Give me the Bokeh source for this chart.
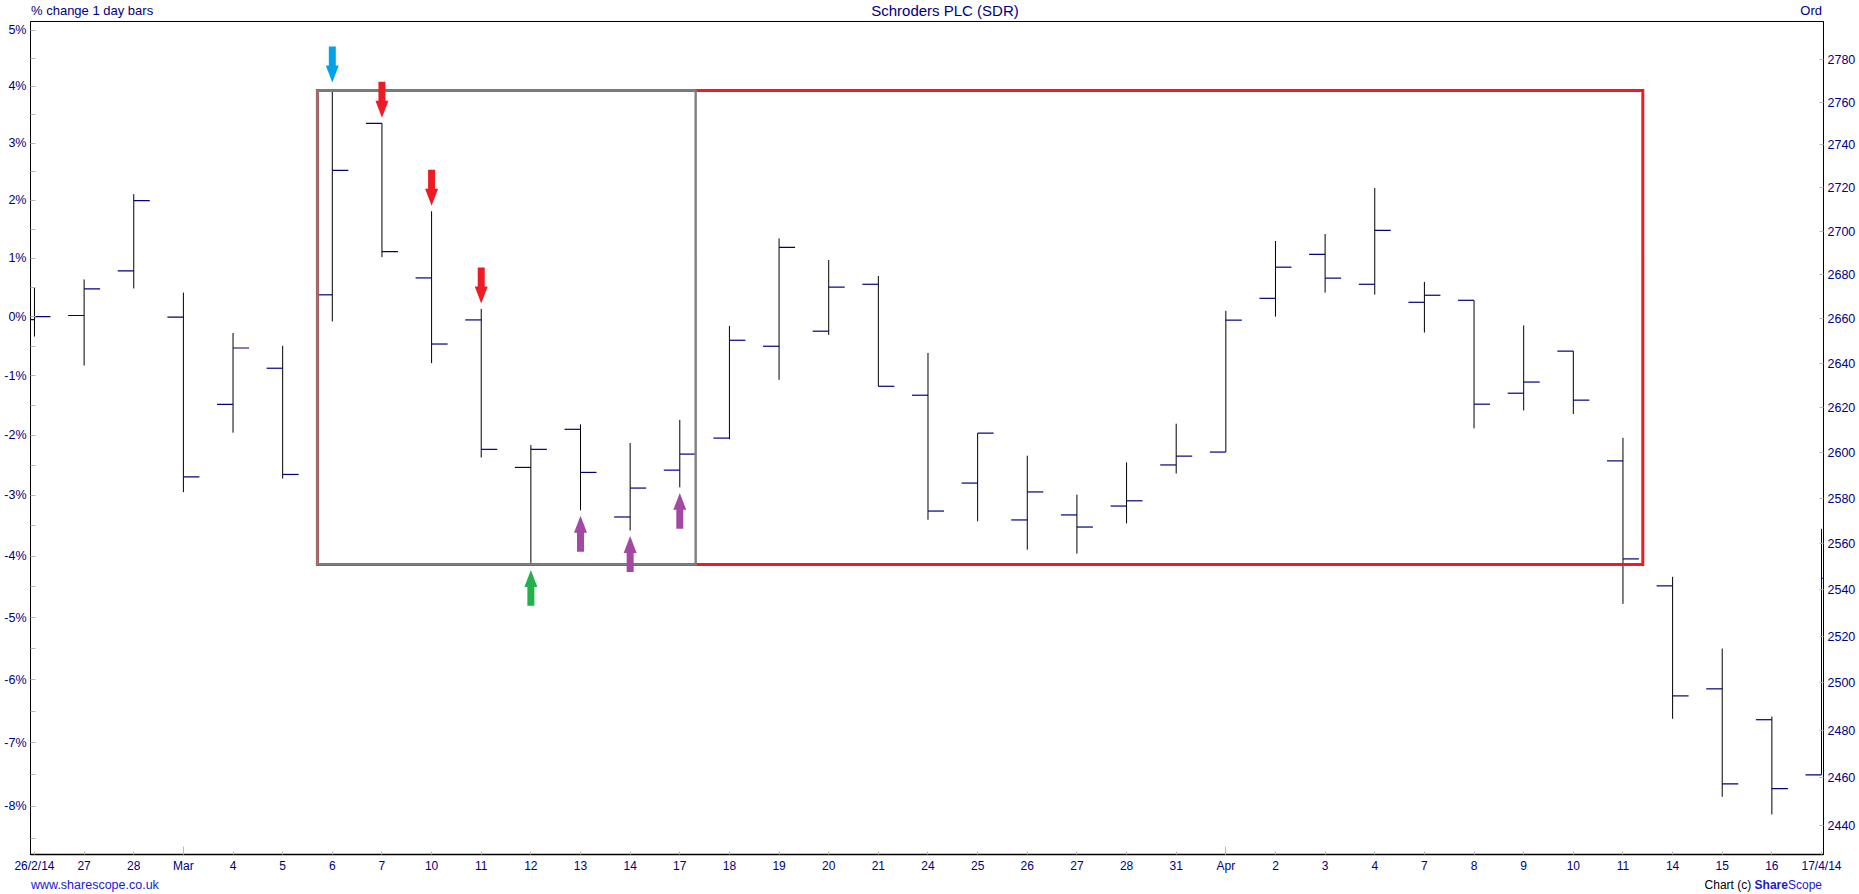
import math
from bokeh.plotting import figure
from bokeh.layouts import column
from bokeh.models import (Range1d, LogAxis, FixedTicker, CustomJSTickFormatter,
                          ColumnDataSource, Div)
from bokeh.embed import file_html
from bokeh.resources import INLINE

# ---------------- data (pence) ----------------
dates = ["26/2/14", "27", "28", "Mar", "4", "5", "6", "7", "10", "11", "12", "13",
         "14", "17", "18", "19", "20", "21", "24", "25", "26", "27", "28", "31",
         "Apr", "2", "3", "4", "7", "8", "9", "10", "11", "14", "15", "16", "17/4/14"]
opens = [2659.6, 2661.5, 2681.8, 2660.8, 2621.5, 2637.7, 2670.9, 2750.1, 2678.6, 2659.5,
         2593.5, 2610.4, 2571.7, 2592.3, 2606.5, 2647.6, 2654.4, 2675.7, 2625.6, 2586.6,
         2570.4, 2572.6, 2576.5, 2594.6, 2600.3, 2669.3, 2689.4, 2675.7, 2667.5, 2668.4,
         2626.5, 2645.4, 2596.4, 2541.7, 2497.5, 2484.4, 2461.2]
highs = [2674.3, 2677.9, 2717.1, 2671.9, 2653.6, 2647.8, 2765.5, 2750.1, 2709.2, 2664.5,
         2603.4, 2612.6, 2604.3, 2614.6, 2656.8, 2696.7, 2686.8, 2679.5, 2644.6, 2608.7,
         2598.7, 2581.5, 2595.7, 2612.9, 2663.6, 2695.5, 2698.7, 2719.9, 2676.8, 2668.4,
         2657.0, 2645.4, 2606.6, 2545.6, 2514.7, 2485.7, 2566.5]
lows = [2652.0, 2638.9, 2673.8, 2582.6, 2608.9, 2588.6, 2658.8, 2688.1, 2640.0, 2597.9,
        2551.0, 2574.6, 2565.8, 2584.7, 2606.0, 2632.5, 2652.7, 2629.5, 2570.5, 2569.8,
        2557.4, 2555.7, 2568.9, 2590.8, 2600.3, 2661.0, 2671.9, 2671.0, 2653.8, 2610.8,
        2618.8, 2617.2, 2533.9, 2484.8, 2452.0, 2444.6, 2461.2]
closes = [2661.0, 2673.6, 2714.1, 2589.3, 2646.8, 2590.4, 2728.1, 2690.6, 2648.6, 2601.5,
          2601.5, 2591.3, 2584.4, 2599.4, 2650.3, 2692.6, 2674.4, 2629.6, 2574.3, 2608.7,
          2582.7, 2567.3, 2578.8, 2598.5, 2659.4, 2683.5, 2678.5, 2700.4, 2670.7, 2621.6,
          2631.5, 2623.4, 2553.4, 2494.5, 2457.4, 2455.4, 2545.0]

pct_ticks = list(range(-8, 6))            # left axis, % change
price_ticks = list(range(2440, 2781, 20))  # right axis, pence
month_idx = [3, 24]

# annotation marks (bar index based)
arrow_bars = [6, 7, 8, 9, 10, 11, 12, 13]
arrow_side = ["high", "high", "high", "high", "low", "low", "low", "low"]
arrow_colors = ["#00a2e8", "#ed1c24", "#ed1c24", "#ed1c24",
                "#22b14c", "#a349a4", "#a349a4", "#a349a4"]

# ---------------- layout ----------------
W = 1859
TOP_H, BOT_H = 20, 19
FIG_H = 894 - TOP_H - BOT_H
XMIN, XMAX = -0.08, 36.04
YMIN, YMAX = 2428.0, 2798.2
BL, BR, BT, BB = 30, 36, 1, 20
frame_h = FIG_H - BT - BB
frame_w = W - BL - BR
ppx = frame_w / (XMAX - XMIN)
ppl = frame_h / math.log(YMAX / YMIN)

NAVY = "#000080"
FONT = "Liberation Sans"
TICKC = "#b8b8b8"
LINKC = "#1a1ad0"

base = closes[0]
n = len(dates)
idx = list(range(n))

p = figure(width=W, height=FIG_H, x_range=Range1d(XMIN, XMAX), y_range=Range1d(YMIN, YMAX),
           y_axis_type="log", y_axis_location=None, output_backend="svg",
           toolbar_location=None, min_border_left=BL, min_border_right=BR,
           min_border_top=BT, min_border_bottom=BB, margin=(0, 0, 0, 0))
p.grid.visible = False
p.outline_line_color = "black"
p.outline_line_width = 1
p.background_fill_color = "white"
p.border_fill_color = "white"

# x axis
xa = p.xaxis[0]
xa.ticker = FixedTicker(ticks=idx, minor_ticks=month_idx)
xa.major_label_overrides = {i: dates[i] for i in idx}
xa.major_label_text_font = FONT
xa.major_label_text_font_size = "12px"
xa.major_label_text_color = NAVY
xa.major_label_standoff = 4
xa.major_tick_in = 3
xa.major_tick_out = 0
xa.minor_tick_in = 8
xa.minor_tick_out = 0
xa.major_tick_line_color = TICKC
xa.minor_tick_line_color = TICKC
xa.axis_line_color = "black"
xa.axis_line_width = 1.3

# left axis: % change
pct_major = [base * (1 + k / 100.0) for k in pct_ticks]
pct_minor = [base * (1 + (k + 0.5) / 100.0) for k in range(-9, 5)]
la = LogAxis(ticker=FixedTicker(ticks=pct_major, minor_ticks=pct_minor),
             formatter=CustomJSTickFormatter(args=dict(base=base),
                                             code="return Math.round((tick/base - 1)*100) + '%';"))
# right axis: price
ra = LogAxis(ticker=FixedTicker(ticks=price_ticks, minor_ticks=[]),
             formatter=CustomJSTickFormatter(code="return Math.round(tick).toString();"))
for ax, st in ((la, 4), (ra, 4)):
    ax.major_label_text_font = FONT
    ax.major_label_text_font_size = "12.5px"
    ax.major_label_text_color = NAVY
    ax.major_label_standoff = st
    ax.major_tick_in = 5
    ax.major_tick_out = 0
    ax.minor_tick_in = 5
    ax.minor_tick_out = 0
    ax.major_tick_line_color = TICKC
    ax.minor_tick_line_color = TICKC
    ax.axis_line_color = "black"
ra.major_tick_in = 4
p.add_layout(la, "left")
p.add_layout(ra, "right")

# ---------------- bars ----------------
tw = 16 / ppx
src = ColumnDataSource(dict(x=idx, o=opens, h=highs, l=lows, c=closes,
                            xl=[i - tw for i in idx], xr=[i + tw for i in idx]))
p.segment(x0="x", y0="l", x1="x", y1="h", source=src, line_color="black", line_width=1)
p.segment(x0="xl", y0="o", x1="x", y1="o", source=src, line_color=NAVY, line_width=1.2)
p.segment(x0="x", y0="c", x1="xr", y1="c", source=src, line_color=NAVY, line_width=1.2)

# ---------------- boxes ----------------
box_left, red_right, gray_right = 5.70, 32.4, 13.32
box_top = highs[6]
box_bottom = lows[10]
p.quad(left=[box_left], right=[red_right], top=[box_top], bottom=[box_bottom],
       fill_alpha=0, line_color="#ed1c24", line_width=3, line_join="miter")
p.quad(left=[box_left], right=[gray_right], top=[box_top], bottom=[box_bottom],
       fill_alpha=0, line_color="#7f7f7f", line_width=2.4, line_join="miter")

# ---------------- arrows ----------------
shape = [(0, 0), (-6.5, 17), (-3.5, 17), (-3.5, 36), (3.5, 36), (3.5, 17), (6.5, 17)]
axs, ays = [], []
for b, side, col in zip(arrow_bars, arrow_side, arrow_colors):
    gap = 8 if col == "#00a2e8" else 5.5
    if side == "high":
        tip = highs[b] * math.exp(gap / ppl)
        sgn = 1
    else:
        tip = lows[b] * math.exp(-gap / ppl)
        sgn = -1
    axs.append([b + dx / ppx for dx, dy in shape])
    ays.append([tip * math.exp(sgn * dy / ppl) for dx, dy in shape])
p.patches(xs=axs, ys=ays, fill_color=arrow_colors, line_color=None)

# ---------------- header / footer texts ----------------
top_html = (
    f'<div style="position:relative;width:{W}px;height:{TOP_H}px;overflow:visible;'
    f"font-family:'{FONT}';font-size:13px;line-height:{TOP_H + 1}px;color:{NAVY};white-space:nowrap;\">"
    '<span style="position:absolute;left:31px;top:0;">% change 1 day bars</span>'
    '<span style="position:absolute;left:745px;width:400px;text-align:center;top:0;'
    'font-size:15px;">Schroders PLC (SDR)</span>'
    '<span style="position:absolute;right:37px;top:0;">Ord</span>'
    '</div>'
)
bot_html = (
    f'<div style="position:relative;width:{W}px;height:{BOT_H}px;overflow:visible;'
    f"font-family:'{FONT}';font-size:12.5px;line-height:{BOT_H + 2}px;white-space:nowrap;\">"
    f'<span style="position:absolute;left:31px;top:0;color:{LINKC};">www.sharescope.co.uk</span>'
    '<span style="position:absolute;right:37px;top:0;color:#000000;font-size:12px;">Chart (c) '
    f'<span style="color:{LINKC};font-weight:bold;">Share</span>'
    f'<span style="color:{LINKC};">Scope</span></span>'
    '</div>'
)
top_div = Div(text=top_html, width=W, height=TOP_H, margin=(0, 0, 0, 0))
bot_div = Div(text=bot_html, width=W, height=BOT_H, margin=(0, 0, 0, 0))

layout = column(top_div, p, bot_div, spacing=0, margin=(0, 0, 0, 0))
open("out.html", "w").write(file_html(layout, INLINE))
